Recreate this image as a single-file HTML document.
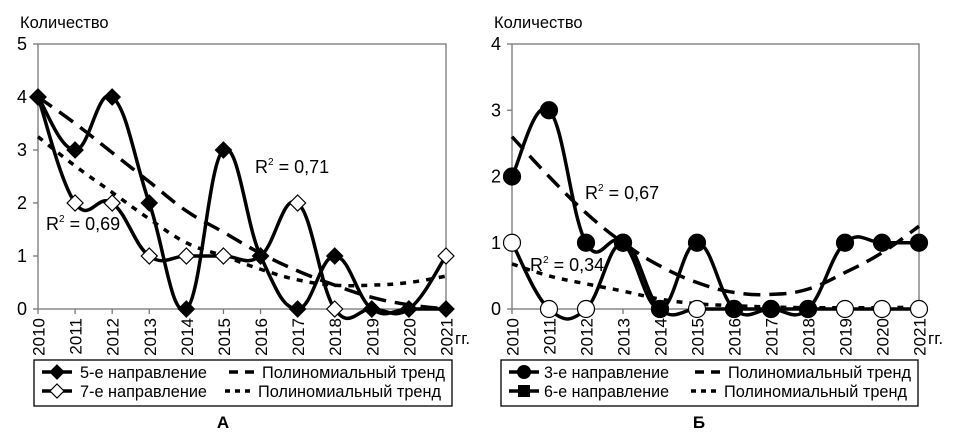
<!DOCTYPE html>
<html><head><meta charset="utf-8"><style>
html,body{margin:0;padding:0;background:#fff;}
svg{display:block;font-family:"Liberation Sans",sans-serif;}
</style></head><body>
<svg id="c" width="956" height="433" viewBox="0 0 956 433"></svg>
<script>
const years = ["2010","2011","2012","2013","2014","2015","2016","2017","2018","2019","2020","2021"];
const serA5 = [4,3,4,2,0,3,1,0,1,0,0,0];
const serA7 = [4,2,2,1,1,1,1,2,0,0,0,1];
const trendA5 = [4.0,3.5,2.95,2.4,1.85,1.45,1.05,0.72,0.45,0.22,0.08,0.0];
const trendA7 = [3.25,2.7,2.2,1.7,1.25,1.0,0.75,0.55,0.45,0.45,0.5,0.62];
const serB3 = [2,3,1,1,0,1,0,0,0,1,1,1];
const serB6 = [1,0,0,1,0,0,0,0,0,0,0,0];
const trendB3 = [2.6,2.0,1.45,1.0,0.65,0.4,0.25,0.22,0.3,0.55,0.85,1.25];
const trendB6 = [0.68,0.5,0.38,0.27,0.15,0.08,0.05,0.03,0.02,0.02,0.02,0.03];
const ticksA = ["0","1","2","3","4","5"];
const ticksB = ["0","1","2","3","4"];

const NS="http://www.w3.org/2000/svg";
const svg=document.getElementById('c');
function mk(tag,attrs,parent){const e=document.createElementNS(NS,tag);for(const k in attrs)e.setAttribute(k,attrs[k]);(parent||svg).appendChild(e);return e;}
function spline(pts){let d=`M${pts[0][0]},${pts[0][1]}`;for(let i=0;i<pts.length-1;i++){const p0=pts[i-1]||pts[i],p1=pts[i],p2=pts[i+1],p3=pts[i+2]||p2;const t=0.2;d+=` C${p1[0]+(p2[0]-p0[0])*t},${p1[1]+(p2[1]-p0[1])*t} ${p2[0]-(p3[0]-p1[0])*t},${p2[1]-(p3[1]-p1[1])*t} ${p2[0]},${p2[1]}`;}return d;}

function chart(o){
  const g=mk('g',{});
  
  
  const x0=o.x0,x1=o.x1,yT=44,yB=309,ymax=o.ticks.length-1;
  const X=i=>x0+(x1-x0)*i/(years.length-1);
  const Y=v=>yB-(yB-yT)*v/ymax;
  const fr=mk('rect',{x:x0,y:yT,width:x1-x0,height:yB-yT,fill:'none',stroke:'#777','stroke-width':1.3},g);
  
  const yt=mk('text',{x:o.x0-18,y:28,'font-size':16.5},g);yt.textContent='Количество';
  
  o.ticks.forEach((t,i)=>{
    mk('line',{x1:x0-5,x2:x0,y1:Y(i),y2:Y(i),stroke:'#777','stroke-width':1.3},g);
    const tx=mk('text',{x:x0-11,y:Y(i)+6,'font-size':18,'text-anchor':'end'},g);tx.textContent=t;
    
  });
  years.forEach((yr,i)=>{
    mk('line',{x1:X(i),x2:X(i),y1:yB,y2:yB+5,stroke:'#777','stroke-width':1.3},g);
    const tx=mk('text',{x:0,y:0,'font-size':17,'text-anchor':'end',transform:`translate(${X(i)+6.5},${yB+9}) rotate(-90)`},g);tx.textContent=yr;
    
  });
  const gg=mk('text',{x:x1+9,y:344,'font-size':17},g);gg.textContent='гг.';
  
  const tp1=mk('path',{d:spline(o.t1.map((v,i)=>[X(i),Y(v)])),fill:'none',stroke:'#000','stroke-width':3.5,'stroke-dasharray':'17,9'},g);
  
  const tp2=mk('path',{d:spline(o.t2.map((v,i)=>[X(i),Y(v)])),fill:'none',stroke:'#000','stroke-width':3.5,'stroke-dasharray':'6,7'},g);
  
  [[o.s2,'#fff',o.n2],[o.s1,'#000',o.n1]].forEach(([s,fill,nm])=>{
    const p=mk('path',{d:spline(s.map((v,i)=>[X(i),Y(v)])),fill:'none',stroke:'#000','stroke-width':3.5},g);
    
    s.forEach((v,i)=>{
      let m;
      if(o.marker==='diamond') m=mk('polygon',{points:`${X(i)},${Y(v)-8} ${X(i)+8},${Y(v)} ${X(i)},${Y(v)+8} ${X(i)-8},${Y(v)}`,fill:fill,stroke:'#000','stroke-width':1.2},g);
      else m=mk('circle',{cx:X(i),cy:Y(v),r:8.5,fill:fill,stroke:'#000','stroke-width':1.2},g);
      
    });
  });
  o.labels.forEach(l=>{
    const t=mk('text',{x:l[0],y:l[1],'font-size':18},g);
    t.innerHTML='R<tspan font-size="10" dy="-8">2</tspan><tspan dy="8"> = '+l[2]+'</tspan>';
    
  });
  const lg=mk('g',{},g);
  mk('rect',{x:o.lx,y:360,width:o.lw,height:46,fill:'#fff',stroke:'#000','stroke-width':1.3},lg);
  [[o.n1lab,'#000',377],[o.n2lab,'#fff',396]].forEach(([lab,fill,y],k)=>{
    const lx=o.lx+8;
    mk('line',{x1:lx,x2:lx+30,y1:y-5,y2:y-5,stroke:'#000','stroke-width':3.5},lg);
    const cx=lx+15,cy=y-5;
    if(o.marker==='diamond') mk('polygon',{points:`${cx},${cy-7} ${cx+7},${cy} ${cx},${cy+7} ${cx-7},${cy}`,fill:fill,stroke:'#000','stroke-width':1.2},lg);
    else if(k===0) mk('circle',{cx:cx,cy:cy,r:7,fill:'#000'},lg);
    else mk('rect',{x:cx-6,y:cy-6,width:12,height:12,fill:'#000'},lg);
    const t=mk('text',{x:o.lx+o.l1,y:y+1,'font-size':16.5,textLength:o.w1,lengthAdjust:'spacingAndGlyphs'},lg);t.textContent=lab;
    
    const tx=o.lx+o.tx-(k===0?0:4);
    mk('line',{x1:tx-33,x2:tx-3,y1:y-5,y2:y-5,stroke:'#000','stroke-width':3.5,'stroke-dasharray':k===0?'9,7':'5,5'},lg);
    const t2=mk('text',{x:tx,y:y+1,'font-size':16.5,textLength:o.w2,lengthAdjust:'spacingAndGlyphs'},lg);t2.textContent='Полиномиальный тренд';
    
  });
  const ct=mk('text',{x:o.cx,y:428,'font-size':17,'font-weight':'bold','text-anchor':'middle'},g);ct.textContent=o.cap;
  
}
chart({name:'chart-a',x0:38,x1:446,ticks:ticksA,s1:serA5,s2:serA7,t1:trendA5,t2:trendA7,marker:'diamond',n1:'series-5',n2:'series-7',
  n1lab:'5-е направление',n2lab:'7-е направление',labels:[[255,173,'0,71'],[46,230,'0,69']],lx:34,lw:418,l1:46,w1:127,tx:228,w2:183,cx:223,cap:'А'});
chart({name:'chart-b',x0:512,x1:919,ticks:ticksB,s1:serB3,s2:serB6,t1:trendB3,t2:trendB6,marker:'circle',n1:'series-3',n2:'series-6',
  n1lab:'3-е направление',n2lab:'6-е направление',labels:[[585,199,'0,67'],[530,271,'0,34']],lx:501,lw:417,l1:43,w1:125,tx:227,w2:183,cx:699,cap:'Б'});
</script>
</body></html>
